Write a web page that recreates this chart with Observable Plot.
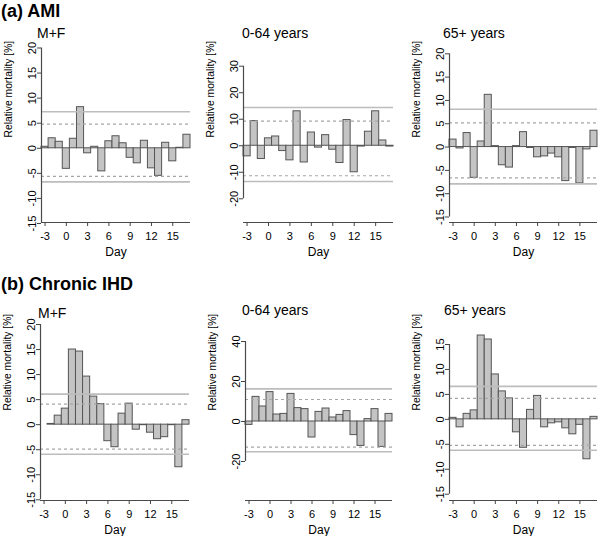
<!DOCTYPE html>
<html><head><meta charset="utf-8">
<script src="https://cdn.jsdelivr.net/npm/d3@7"></script>
<script src="https://cdn.jsdelivr.net/npm/@observablehq/plot@0.6"></script>
<style>
body{margin:0;background:#fff;font-family:"Liberation Sans",Arial,sans-serif;}
#root{position:relative;width:600px;height:536px;overflow:hidden;background:#fff;}
.panel{position:absolute;}
.sec{position:absolute;font-weight:bold;font-size:18px;color:#000;white-space:nowrap;line-height:20px;}
.ttl{position:absolute;font-size:14px;color:#000;white-space:nowrap;line-height:16px;}
</style></head><body><div id="root"></div>
<script>
// Categories
const days = [-3,-2,-1,0,1,2,3,4,5,6,7,8,9,10,11,12,13,14,15,16,17];
const xTicks = [-3,0,3,6,9,12,15];

// (a) AMI
const amiAll = [0.3,2.0,1.3,-4.1,1.9,8.2,-1.0,0.3,-4.6,1.4,2.4,1.0,-1.9,-3.0,1.5,-4.0,-5.5,1.1,-2.6,0.1,2.7];
const ami064 = [-4.0,9.3,-5.0,2.8,3.5,-2.0,-5.5,13.0,-6.3,5.0,-0.7,4.0,-1.5,-6.5,9.7,-10.0,-0.3,5.3,13.0,2.0,-0.3];
const ami65  = [1.6,-0.3,3.0,-6.6,1.2,11.2,0.2,-3.9,-4.4,0.2,3.2,-0.2,-2.2,-2.0,-1.4,-2.2,-7.3,-0.2,-7.8,-0.5,3.5];
const amiAllSolid = [7.3,-6.7],  amiAllDashed = [4.8,-5.6];
const ami064Solid = [14.4,-13.5], ami064Dashed = [9.3,-11.3];
const ami65Solid  = [8.1,-7.9],  ami65Dashed  = [5.2,-6.6];

// (b) Chronic IHD
const ihdAll = [null,0.15,1.8,3.2,15.0,14.6,9.6,5.6,4.1,-3.3,-4.5,2.2,4.2,-1.0,-0.1,-1.6,-2.9,-2.5,-0.1,-8.5,0.9];
const ihd064 = [-1.7,12.3,7.5,14.7,3.5,3.8,13.8,6.7,6.2,-8.0,4.8,6.5,2.0,3.3,5.2,-6.8,-12.2,1.2,6.2,-12.7,3.8];
const ihd65  = [0.3,-1.6,1.1,1.8,16.8,16.0,9.0,5.6,4.2,-2.6,-5.7,1.9,4.7,-1.6,-0.8,-0.6,-1.8,-3.0,-1.1,-8.0,0.5];
const ihdAllSolid = [6.1,-5.9],  ihdAllDashed = [4.1,-4.9];
const ihd064Solid = [16.3,-15.1], ihd064Dashed = [11.0,-12.8];
const ihd65Solid  = [6.6,-6.2],  ihd65Dashed  = [4.2,-5.2];

// y tick labels
const ticksA = [-15,-10,-5,0,5,10,15,20];
const ticksB = [-20,-10,0,10,20,30];
const ticksC = [-20,0,20,40];
const ticksD = [-15,-10,-5,0,5,10,15];

const sections = [["(a) AMI", 1, 0.5], ["(b) Chronic IHD", 1, 273.5]];

const panels = [
  {title:"M+F",        tx:37,  ty:25,  gx:0,   gy:0,   left:41, right:190, axis:222, vals:amiAll, solid:amiAllSolid, dashed:amiAllDashed, ticks:ticksA, px:[223,47.5]},
  {title:"0-64 years", tx:242, ty:25,  gx:200, gy:0,   left:43, right:193, axis:222, vals:ami064, solid:ami064Solid, dashed:ami064Dashed, ticks:ticksB, px:[198.3,65.7]},
  {title:"65+ years",  tx:443, ty:25,  gx:400, gy:0,   left:49, right:197, axis:222, vals:ami65,  solid:ami65Solid,  dashed:ami65Dashed,  ticks:ticksA, px:[216.5,53.3]},
  {title:"M+F",        tx:38,  ty:305, gx:0,   gy:268, left:40, right:189, axis:232, vals:ihdAll, solid:ihdAllSolid, dashed:ihdAllDashed, ticks:ticksA, px:[231.3,56]},
  {title:"0-64 years", tx:242, ty:302, gx:200, gy:268, left:45, right:192, axis:232, vals:ihd064, solid:ihd064Solid, dashed:ihd064Dashed, ticks:ticksC, px:[193,73]},
  {title:"65+ years",  tx:444, ty:302, gx:400, gy:268, left:49, right:197, axis:232, vals:ihd65,  solid:ihd65Solid,  dashed:ihd65Dashed,  ticks:ticksD, px:[225.7,76]}
];

const root = document.getElementById("root");
const W = 200, H = 268;

for (const p of panels) {
  const data = days.map((d, i) => ({day: d, v: p.vals[i]})).filter(d => d.v != null);
  const t0 = p.ticks[0], t1 = p.ticks[p.ticks.length - 1];
  const toVal = px => t0 + (px - p.px[0]) * (t1 - t0) / (p.px[1] - p.px[0]);
  const axisVal = toVal(p.axis);
  const labelCenter = p.gy === 0 ? 137 : 142;
  const chart = Plot.plot({
    width: W, height: H,
    marginLeft: p.left, marginRight: W - p.right,
    marginBottom: H - p.axis, marginTop: 2 * labelCenter - p.axis,
    style: {fontFamily: '"Liberation Sans", Arial, sans-serif', color: "#444", background: "transparent", overflow: "visible"},
    x: {domain: [-3.5, 17.5]},
    y: {domain: [t0, t1], range: p.px},
    marks: [
      Plot.rect(data, {x1: d => d.day - 0.5, x2: d => d.day + 0.5, y1: 0, y2: "v", fill: "#c4c4c4", stroke: "#555", strokeWidth: 1}),
      Plot.ruleY(p.solid, {stroke: "#bdbdbd", strokeWidth: 1.6}),
      Plot.ruleY(p.dashed, {stroke: "#a6a6a6", strokeWidth: 1.2, strokeDasharray: "3,3"}),
      Plot.ruleY([axisVal], {stroke: "#4a4a4a", strokeWidth: 1.2}),
      Plot.ruleX([-3.5], {y1: t0, y2: t1, stroke: "#4a4a4a", strokeWidth: 1.2}),
      Plot.axisY({ticks: p.ticks, tickSize: 4, tickPadding: 2, tickRotate: -90, fontSize: 11, label: null, tickFormat: d => String(d), fill: "#000"}),
      Plot.axisX({ticks: xTicks, tickSize: 4, tickPadding: 6, fontSize: 11, label: null, tickFormat: d => String(d), fill: "#000"}),
      Plot.text(["Day"], {frameAnchor: "bottom", dy: 30, lineAnchor: "middle", fontSize: 12, fill: "#000"}),
      Plot.text(["Relative mortality [%]"], {frameAnchor: "left", dx: -33, rotate: -90, lineAnchor: "middle", fontSize: 10.3, fill: "#000"})
    ]
  });
  chart.classList.add("panel");
  chart.style.left = p.gx + "px";
  chart.style.top = p.gy + "px";
  root.appendChild(chart);

  const t = document.createElement("div");
  t.className = "ttl";
  t.textContent = p.title;
  t.style.left = p.tx + "px";
  t.style.top = p.ty + "px";
  root.appendChild(t);
}

for (const [txt, x, y] of sections) {
  const s = document.createElement("div");
  s.className = "sec";
  s.textContent = txt;
  s.style.left = x + "px";
  s.style.top = y + "px";
  root.appendChild(s);
}
</script>
</body></html>
